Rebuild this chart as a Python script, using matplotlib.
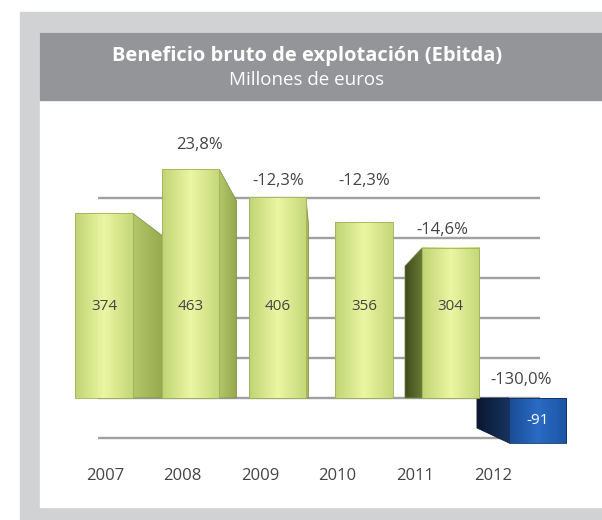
import numpy as np
import matplotlib
matplotlib.use('Agg')
import matplotlib.pyplot as plt
from matplotlib.colors import LinearSegmentedColormap
from matplotlib.patches import Rectangle, Polygon

# data
years = ['2007', '2008', '2009', '2010', '2011', '2012']
ebitda = [374, 463, 406, 356, 304, -91]
growth = ['', '23,8%', '-12,3%', '-12,3%', '-14,6%', '-130,0%']
grid_values = [-100, 0, 100, 200, 300, 400, 500]

# look
W, H = 602, 520
FRAME = '#d1d2d4'
HEADER = '#939598'
TEXT = '#444444'
green_front = LinearSegmentedColormap.from_list('g', ['#c0d474', '#ecf6a3', '#c4d778'])
green_side = LinearSegmentedColormap.from_list('gs', ['#b4c76a', '#94a84c'])
blue_front = LinearSegmentedColormap.from_list('b', ['#1a4c96', '#2a6bc4', '#1c54a4'])

# fake perspective: vanishing point (data units) and depth factor
vx, vy, depth = 2.5, 87, 0.83
grid_depth = 0.81
bar_w = 0.66

plt.rcParams['font.family'] = ['Open Sans', 'DejaVu Sans']

fig = plt.figure(figsize=(W / 100, H / 100), dpi=100)
fig.patch.set_facecolor('white')


def fig_rect(x0, y0, x1, y1, color):
    fig.patches.append(Rectangle((x0 / W, 1 - y1 / H), (x1 - x0) / W, (y1 - y0) / H,
                                 transform=fig.transFigure, color=color, zorder=-5))


fig_rect(20, 12, W, H, FRAME)
fig_rect(40, 33, W, 507, 'white')
fig_rect(40, 33, W, 100, HEADER)

fig.text(307 / W, 1 - 56 / H, 'Beneficio bruto de explotación (Ebitda)', color='white',
         fontsize=14.5, fontweight='bold', ha='center', va='center')
fig.text(307 / W, 1 - 80 / H, 'Millones de euros', color='white',
         fontsize=13.5, ha='center', va='center')

ax = fig.add_axes([40 / W, 1 - 507 / H, (W - 40) / W, 407 / H])
ax.set_axis_off()

# back wall grid
for g in grid_values:
    ax.plot([-0.07, 5.03], [g * grid_depth] * 2, color='#a0a0a0', lw=1.7, zorder=1,
            solid_capstyle='butt')

for i, v in enumerate(ebitda):
    xl, xr = i - bar_w / 2, i + bar_w / 2
    neg = v < 0
    back_v = vy + depth * (v - vy)
    # side face
    side = None
    full = i
    if xr < vx:
        xb = vx + depth * (xr - vx)
        side = [(xr, 0), (xr, v), (xb, back_v), (xb, 0)]
        full = (xl + xb) / 2
    elif xl > vx + 0.5:
        xb = vx + depth * (xl - vx)
        side = [(xl, 0), (xl, v), (xb, back_v), (xb, 0)]
        full = (xb + xr) / 2
    if side:
        poly = Polygon(side, closed=True, facecolor='none',
                       edgecolor='#0a1730' if neg else '#7d8c45', lw=0.5, zorder=2.5)
        ax.add_patch(poly)
        xs = [p[0] for p in side]
        ys = [p[1] for p in side]
        if xr < vx:
            cm = green_side
        elif neg:
            cm = LinearSegmentedColormap.from_list('bs', ['#0a1731', '#17335f'])
        else:
            cm = LinearSegmentedColormap.from_list('gl', ['#3f4b1d', '#6a7c35'])
        im = ax.imshow(np.linspace(0, 1, 64)[None, :], cmap=cm,
                       extent=(min(xs), max(xs), min(ys), max(ys)), aspect='auto',
                       zorder=2, interpolation='bilinear')
        im.set_clip_path(poly)
    lo, hi = (v, 0) if neg else (0, v)
    ax.imshow(np.linspace(0, 1, 256)[None, :], cmap=blue_front if neg else green_front,
              extent=(xl, xr, lo, hi), aspect='auto', zorder=3, interpolation='bilinear')
    ax.add_patch(Rectangle((xl, lo), bar_w, hi - lo, fill=False,
                           edgecolor='#0f2f66' if neg else '#9fb15a', lw=0.6, zorder=4))

    # value inside bar
    ax.text(i, v / 2 if neg else 186, str(v), ha='center', va='center', fontsize=11,
            color='white' if neg else TEXT, zorder=5)

    # growth above bar
    if growth[i]:
        lift = [0, 24, 16, 41, 18, 18][i]
        ax.annotate(growth[i], (full, max(v, 0)), xytext=(0, lift), textcoords='offset pixels',
                    ha='center', va='center', fontsize=12, color=TEXT, zorder=5)

    # year label on the floor
    ax.text(0.01 + 0.895 * i, -158, years[i], ha='center', va='center', fontsize=12, color=TEXT)

ax.set_xlim(-0.738, 5.744)
ax.set_ylim(-220.6, 603)

fig.savefig('out.png', dpi=100)
